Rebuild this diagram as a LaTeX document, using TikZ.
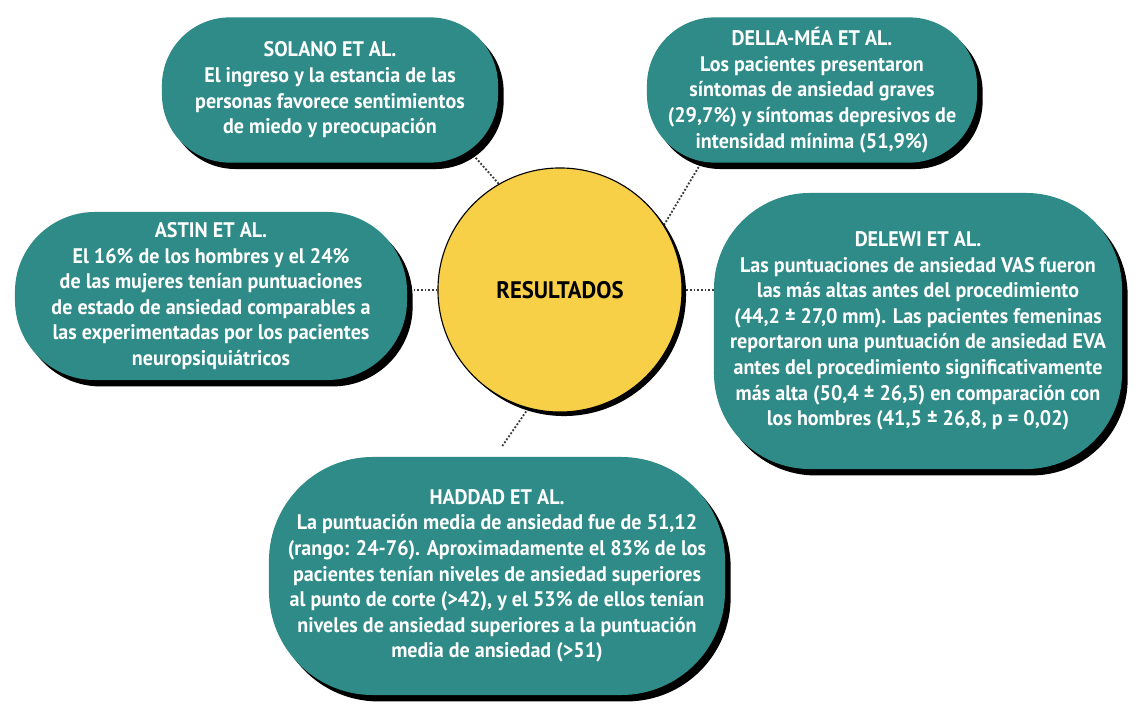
\documentclass[tikz,border=0pt]{standalone}
\usepackage{fontspec}
\setmainfont{PT Sans}[FakeStretch=0.95]
\usetikzlibrary{shadows,backgrounds}
\definecolor{ResTeal}{HTML}{2E8B88}
\definecolor{ResGold}{HTML}{F8D048}
\definecolor{ResDots}{HTML}{3A3A3A}
\tikzset{
  resstudy/.style={
    fill=ResTeal,
    text=white,
    font=\bfseries\fontsize{15}{18.2}\selectfont,
    align=center,
    inner sep=0pt,
    drop shadow={shadow xshift=.14cm,shadow yshift=-.16cm,fill=black,opacity=1}
  },
  rescore/.style={
    circle,
    draw=black,
    line width=.8pt,
    fill=ResGold,
    minimum size=6.1cm,
    font=\bfseries\fontsize{17}{19}\selectfont,
    drop shadow={shadow xshift=.1cm,shadow yshift=-.1cm,fill=black,opacity=1}
  },
  resdots/.style={line width=1.3pt,draw=ResDots,dash pattern=on 1.3pt off 1.3pt}
}

\begin{document}
\begin{tikzpicture}[x=0.025cm,y=-0.025cm]
    \useasboundingbox (0,0) rectangle (1138,710);
    \node[rescore] (res) at (560,290) {RESULTADOS};
    \node[resstudy,minimum width=8.4cm,minimum height=3.63cm,rounded corners=1.7cm] (solano) at (330,90) {
      SOLANO ET AL.\\
      El ingreso y la estancia de las\\
      personas favorece sentimientos\\
      de miedo y preocupación
    };
    \node[resstudy,minimum width=8.25cm,minimum height=3.63cm,rounded corners=1.7cm] (dellamea) at (812,90) {
      DELLA-MÉA ET AL.\\
      Los pacientes presentaron\\
      síntomas de ansiedad graves\\
      (29,7\%) y síntomas depresivos de\\
      intensidad mínima (51,9\%)
    };
    \node[resstudy,minimum width=9.8cm,minimum height=4.2cm,rounded corners=2cm] (astin) at (211,296) {
      ASTIN ET AL.\\
      El 16\% de los hombres y el 24\%\\
      de las mujeres tenían puntuaciones\\
      de estado de ansiedad comparables a\\
      las experimentadas por los pacientes\\
      neuropsiquiátricos
    };
    \node[resstudy,minimum width=10.2cm,minimum height=6.9cm,rounded corners=2.4cm] (delewi) at (918,331) {
      DELEWI ET AL.\\
      Las puntuaciones de ansiedad VAS fueron\\
      las más altas antes del procedimiento\\
      (44,2 ± 27,0 mm). Las pacientes femeninas\\
      reportaron una puntuación de ansiedad EVA\\
      antes del procedimiento significativamente\\
      más alta (50,4 ± 26,5) en comparación con\\
      los hombres (41,5 ± 26,8, p = 0,02)
    };
    \node[resstudy,minimum width=11.4cm,minimum height=5.95cm,rounded corners=2.6cm] (haddad) at (497,576) {
      HADDAD ET AL.\\
      La puntuación media de ansiedad fue de 51,12\\
      (rango: 24-76). Aproximadamente el 83\% de los\\
      pacientes tenían niveles de ansiedad superiores\\
      al punto de corte (>42), y el 53\% de ellos tenían\\
      niveles de ansiedad superiores a la puntuación\\
      media de ansiedad (>51)
    };
    \begin{scope}[on background layer]
      \fill[white] (0,0) rectangle (1138,710);
      \draw[resdots] (res.120) -- ([xshift=-.85cm,yshift=.45cm]solano.south east);
      \draw[resdots] (res.32) -- ([xshift=1.6cm,yshift=.4cm]dellamea.south west);
      \draw[resdots] (res.west) -- (res.west -| astin.center);
      \draw[resdots] (res.east) -- (res.east -| delewi.center);
      \draw[resdots] (res.255) -- ([xshift=.12cm,yshift=.25cm]haddad.north);
    \end{scope}
  \end{tikzpicture}
\end{document}
